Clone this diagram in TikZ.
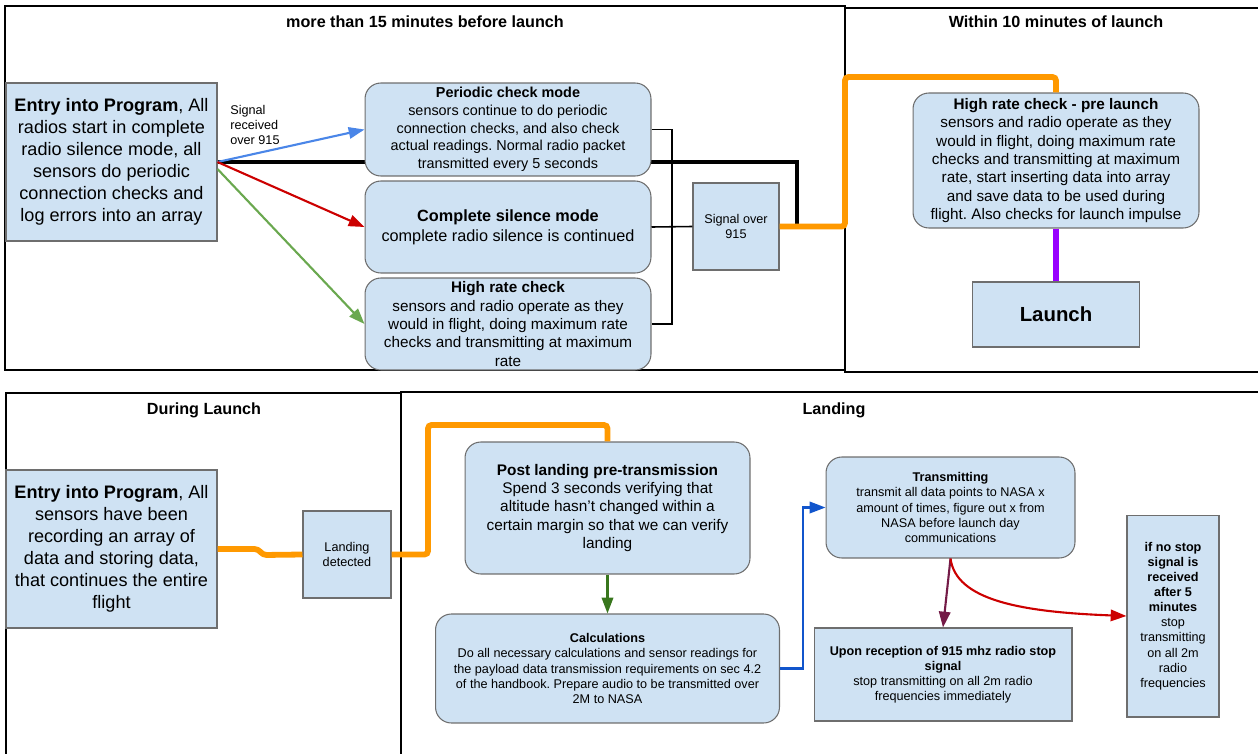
\documentclass[tikz,border=0pt]{standalone}
\usepackage{fontspec}
\setmainfont{Liberation Sans}
\usetikzlibrary{arrows.meta}
\frenchspacing

\definecolor{boxblue}{HTML}{CFE2F3}
\definecolor{boxline}{HTML}{6E6E6E}
\definecolor{sigblue}{HTML}{4A86E8}
\definecolor{sigred}{HTML}{CC0000}
\definecolor{siggreen}{HTML}{6AA84F}
\definecolor{linkorange}{HTML}{FF9900}
\definecolor{linkpurple}{HTML}{9900FF}
\definecolor{darkgreen}{HTML}{38761D}
\definecolor{darkblue}{HTML}{1155CC}
\definecolor{maroon}{HTML}{741B47}

\tikzset{
	frame/.style={draw=black, line width=1.2pt},
	phase/.style={font=\bfseries\fontsize{9.2}{11}\selectfont},
	sqbox/.style={draw=boxline, fill=boxblue, line width=0.6pt, align=center, inner sep=0pt},
	rbox/.style={sqbox, rounded corners=9pt},
	bigtext/.style={font=\fontsize{10.3}{12.5}\selectfont},
	midtext/.style={font=\fontsize{8.7}{10.4}\selectfont},
	smalltext/.style={font=\fontsize{7.2}{8.6}\selectfont},
	arr/.style={line width=1.2pt, -{Triangle[length=9pt,width=6.5pt]}},
	thickline/.style={line width=3.3pt, rounded corners=2pt},
}

\begin{document}
\begin{tikzpicture}[x=0.02cm, y=-0.02cm]
		%%%%% START %%%%%
		\useasboundingbox (0,0) rectangle (1258,754);
		\clip (0,0) rectangle (1258,754);

		% phase frames
		\draw[frame] (5,6) rectangle (845,370);
		\draw[frame] (845,8) rectangle (1264,372);
		\draw[frame] (6,393) rectangle (401,760);
		\draw[frame] (401,392) rectangle (1264,760);
		\node[phase] (t1) at (425,22) {more than 15 minutes before launch};
		\node[phase] (t2) at (1056,22) {Within 10 minutes of launch};
		\node[phase] (t3) at (204,410) {During Launch};
		\node[phase] (t4) at (834,410) {Landing};

		% before launch
		\node[sqbox, bigtext, minimum width=4.22cm, minimum height=3.16cm] (entry) at (111.5,162)
			{\textbf{Entry into Program}, All\\radios start in complete\\radio silence mode, all\\sensors do periodic\\connection checks and\\log errors into an array};
		\coordinate (blackturn) at (797,162);
		\draw[line width=2.8pt] (entry.east) -- (blackturn) -- (797,227);

		\node[rbox, font=\fontsize{8.2}{10.1}\selectfont, minimum width=5.72cm, minimum height=1.86cm] (periodic) at (508,129.5)
			{\textbf{Periodic check mode}\\sensors continue to do periodic\\connection checks, and also check\\actual readings. Normal radio packet\\transmitted every 5 seconds};
		\node[rbox, font=\fontsize{9.25}{11.3}\selectfont, minimum width=5.72cm, minimum height=1.84cm] (silence) at (508,227)
			{\textbf{Complete silence mode}\\complete radio silence is continued};
		\node[rbox, midtext, minimum width=5.72cm, minimum height=1.84cm] (highrate) at (508,324)
			{\textbf{High rate check}\\sensors and radio operate as they\\would in flight, doing maximum rate\\checks and transmitting at maximum\\rate};
		\node[sqbox, smalltext, minimum width=1.72cm, minimum height=1.74cm] (sig915) at (736,226.5) {Signal over\\915};
		\node[smalltext, align=left, anchor=north west, inner sep=0pt] (siglabel) at (230,105) {Signal\\received\\over 915};

		\draw[arr, sigblue] (entry.east) -- (periodic.west);
		\draw[arr, sigred] (entry.east) -- (silence.west);
		\draw[arr, siggreen] ([yshift=-4pt]entry.east) -- (highrate.west);

		\coordinate (bus) at (672,227);
		\draw[line width=0.9pt] (periodic.east) -| (bus) |- (highrate.east);
		\draw[line width=0.9pt] (silence.east) -- (sig915.west);

		% within 10 minutes
		\node[rbox, midtext, minimum width=5.72cm, minimum height=2.70cm] (prelaunch) at (1056,160.5)
			{\textbf{High rate check - pre launch}\\sensors and radio operate as they\\would in flight, doing maximum rate\\checks and transmitting at maximum\\rate, start inserting data into array\\and save data to be used during\\flight. Also checks for launch impulse};
		\node[sqbox, font=\bfseries\fontsize{11.6}{14}\selectfont, minimum width=3.34cm, minimum height=1.30cm] (launch) at (1056,314.5) {Launch};
		\coordinate (orangeturn) at (845,77);
		\draw[thickline, linkorange] (sig915.east) -| (orangeturn) -| (prelaunch.north);
		\draw[line width=3.3pt, linkpurple] (prelaunch.south) -- (launch.north);

		% during launch
		\node[sqbox, bigtext, minimum width=4.22cm, minimum height=3.16cm] (entry2) at (111.5,549)
			{\textbf{Entry into Program}, All\\sensors have been\\recording an array of\\data and storing data,\\that continues the entire\\flight};
		\node[sqbox, smalltext, minimum width=1.76cm, minimum height=1.74cm] (landed) at (347,554.5) {Landing\\detected};
		\draw[thickline, linkorange] (entry2.east) -- (258,549) -- (263,555) -- (landed.west);

		% landing
		\node[rbox, font=\fontsize{8.75}{10.4}\selectfont, minimum width=5.70cm, minimum height=2.64cm] (postland) at (607.5,508)
			{\textbf{Post landing pre-transmission}\\Spend 3 seconds verifying that\\altitude hasn't changed within a\\certain margin so that we can verify\\landing};
		\coordinate (landturn) at (428,425);
		\draw[thickline, linkorange] (landed.east) -| (landturn) -| (postland.north);

		\node[rbox, smalltext, minimum width=6.88cm, minimum height=2.18cm] (calc) at (607.5,668.5)
			{\textbf{Calculations}\\Do all necessary calculations and sensor readings for\\the payload data transmission requirements on sec 4.2\\of the handbook. Prepare audio to be transmitted over\\2M to NASA};
		\draw[arr, darkgreen] (postland.south) -- (calc.north);

		\node[rbox, smalltext, minimum width=4.98cm, minimum height=2.02cm] (transmit) at (950.5,507.5)
			{\textbf{Transmitting}\\transmit all data points to NASA x\\amount of times, figure out x from\\NASA before launch day\\communications};
		\draw[arr, darkblue] (calc.east) -- ++(23,0) |- (transmit.west);

		\node[sqbox, smalltext, minimum width=5.16cm, minimum height=1.86cm] (upon) at (943,674.5)
			{\textbf{Upon reception of 915 mhz radio stop}\\\textbf{signal}\\stop transmitting on all 2m radio\\frequencies immediately};
		\node[sqbox, smalltext, minimum width=1.84cm, minimum height=4.04cm] (nostop) at (1173,616)
			{\textbf{if no stop}\\\textbf{signal is}\\\textbf{received}\\\textbf{after 5}\\\textbf{minutes}\\stop\\transmitting\\on all 2m\\radio\\frequencies};
		\draw[arr, maroon] (transmit.south) -- (upon.north);
		\draw[arr, sigred] (transmit.south) .. controls (956,600) and (1020,612) .. (nostop.west);

		%%%%% END %%%%%
	\end{tikzpicture}
\end{document}
